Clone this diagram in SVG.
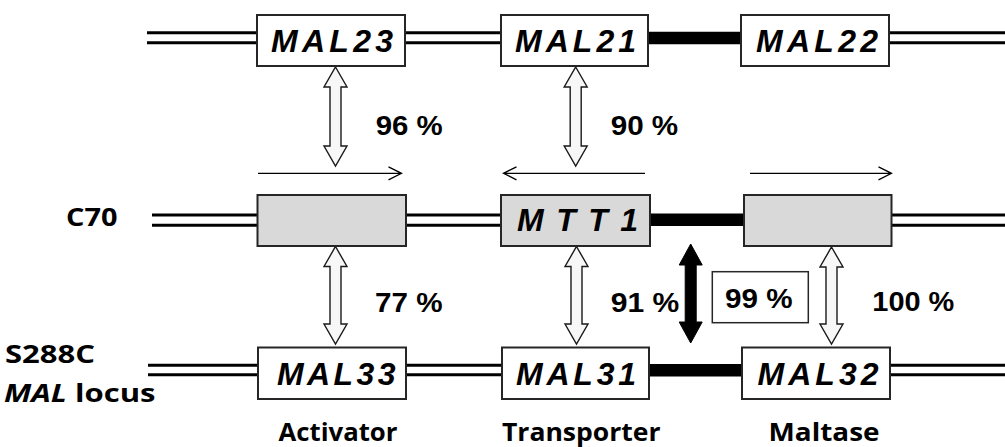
<svg xmlns="http://www.w3.org/2000/svg" width="1005" height="447" viewBox="0 0 1005 447">
<style>
.gene{fill:#fff;stroke:#262626;stroke-width:2}
.grey{fill:#d9d9d9;stroke:#262626;stroke-width:2}
.dl{stroke:#000;stroke-width:3;fill:none}
.bar{stroke:#000;stroke-width:12.5;fill:none}
.ha{fill:#f7f7f7;stroke:#1a1a1a;stroke-width:1.4;stroke-linejoin:miter}
.ba{fill:#000;stroke:#000;stroke-width:1}
.thin{stroke:#000;stroke-width:1.3;fill:none}
.gt{font-family:"Liberation Sans",Arial,sans-serif;font-weight:bold;font-style:italic;font-size:32px;fill:#000}
.pc{font-family:"Liberation Sans",Arial,sans-serif;font-weight:bold;font-size:27px;fill:#000}
.lb{font-family:"Open Sans","Liberation Sans",sans-serif;font-weight:bold;font-size:25.5px;fill:#000}
</style>
<g id="connectors">
  <path class="dl" d="M147,32.7H257M147,42.7H257M405,32.7H501M405,42.7H501M889,32.7H1005M889,42.7H1005"/>
  <path class="bar" d="M647,38H742"/>
  <path class="dl" d="M152,215H257.5M152,225.3H257.5M406,215H501M406,225.3H501M891.5,215H1005M891.5,225.3H1005"/>
  <path class="bar" d="M649,219.7H745"/>
  <path class="dl" d="M148,365.3H258M148,374.7H258M406,365.3H502M406,374.7H502M890,365.3H1005M890,374.7H1005"/>
  <path class="bar" d="M648,370.3H743"/>
  <path class="thin" d="M258,173.3H401.5M388.5,166.8L401.5,173.3L388.5,179.8"/>
  <path class="thin" d="M645,173.3H503.5M516.5,166.8L503.5,173.3L516.5,179.8"/>
  <path class="thin" d="M750,173.3H891.5M878.5,166.8L891.5,173.3L878.5,179.8"/>
  <path class="ha" d="M335.5,67L347,87H341V146H347L335.5,166L324,146H330V87H324Z"/>
  <path class="ha" d="M575.7,67L587.2,87H581.2V146H587.2L575.7,166L564.2,146H570.2V87H564.2Z"/>
  <path class="ha" d="M335.5,246.5L347,266.5H341V324H347L335.5,344L324,324H330V266.5H324Z"/>
  <path class="ha" d="M576.5,246.5L588,266.5H582V324H588L576.5,344L565,324H571V266.5H565Z"/>
  <path class="ha" d="M831.5,247L843,267H837V324H843L831.5,344L820,324H826V267H820Z"/>
  <path class="ba" d="M690.7,244L702.2,265H696.2V322H702.2L690.7,343L679.2,322H685.2V265H679.2Z"/>
</g>
<g id="MAL23"><rect class="gene" x="257" y="15" width="148" height="51"/><text class="gt" x="271" y="52" textLength="122" lengthAdjust="spacing">MAL23</text></g>
<g id="MAL21"><rect class="gene" x="501" y="15" width="147" height="51"/><text class="gt" x="515" y="52" textLength="121" lengthAdjust="spacing">MAL21</text></g>
<g id="MAL22"><rect class="gene" x="741" y="15" width="148" height="51"/><text class="gt" x="756" y="52" textLength="122" lengthAdjust="spacing">MAL22</text></g>
<g id="C70-activator"><rect class="grey" x="257.5" y="195" width="148.5" height="51"/></g>
<g id="MTT1"><rect class="grey" x="501" y="195" width="149" height="51"/><text class="gt" x="517" y="231" textLength="121" lengthAdjust="spacing">M T T 1</text></g>
<g id="C70-maltase"><rect class="grey" x="744" y="195" width="147.5" height="51"/></g>
<g id="MAL33"><rect class="gene" x="258" y="347.5" width="148" height="51.5"/><text class="gt" x="277" y="384.5" textLength="118.5" lengthAdjust="spacing">MAL33</text></g>
<g id="MAL31"><rect class="gene" x="502" y="347.5" width="147" height="51.5"/><text class="gt" x="516" y="384.5" textLength="120" lengthAdjust="spacing">MAL31</text></g>
<g id="MAL32"><rect class="gene" x="742" y="347.5" width="148" height="51.5"/><text class="gt" x="757.5" y="384.5" textLength="121" lengthAdjust="spacing">MAL32</text></g>
<g id="box99"><rect x="712.3" y="271.7" width="96" height="51" fill="#fff" stroke="#262626" stroke-width="1.5"/><text class="pc" x="725" y="307.7" textLength="67.5" lengthAdjust="spacingAndGlyphs">99 %</text></g>
<g id="percent-labels">
  <text class="pc" x="375.7" y="135" textLength="67" lengthAdjust="spacingAndGlyphs">96 %</text>
  <text class="pc" x="610.7" y="135" textLength="67.5" lengthAdjust="spacingAndGlyphs">90 %</text>
  <text class="pc" x="375" y="312" textLength="67.5" lengthAdjust="spacingAndGlyphs">77 %</text>
  <text class="pc" x="610.7" y="312" textLength="68.5" lengthAdjust="spacingAndGlyphs">91 %</text>
  <text class="pc" x="872.3" y="311" textLength="82" lengthAdjust="spacingAndGlyphs">100 %</text>
</g>
<g id="labels">
  <text class="lb" x="66" y="226" font-size="28" textLength="51.5" lengthAdjust="spacingAndGlyphs">C70</text>
  <text class="lb" x="5" y="363.3" textLength="90" lengthAdjust="spacingAndGlyphs">S288C</text>
  <text class="lb" x="4" y="401.7" textLength="151.5" lengthAdjust="spacingAndGlyphs"><tspan font-style="italic">MAL</tspan> locus</text>
  <text class="lb" x="278.5" y="441" font-size="24.5" textLength="119" lengthAdjust="spacingAndGlyphs">Activator</text>
  <text class="lb" x="502" y="441" font-size="24.5" textLength="158.5" lengthAdjust="spacingAndGlyphs">Transporter</text>
  <text class="lb" x="768.5" y="441" font-size="24.5" textLength="111" lengthAdjust="spacingAndGlyphs">Maltase</text>
</g>
</svg>
